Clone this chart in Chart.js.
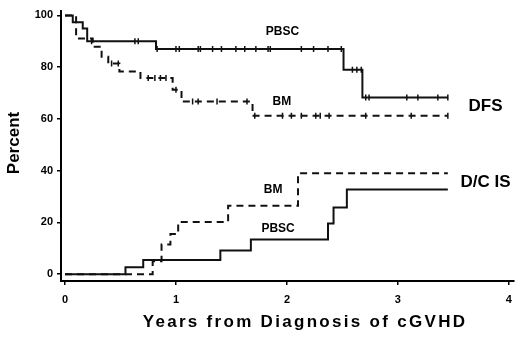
<!DOCTYPE html>
<html><head><meta charset="utf-8">
<script src="https://cdn.jsdelivr.net/npm/chart.js@4/dist/chart.umd.min.js"></script>
<style>html,body{margin:0;padding:0;background:#fff}#wrap{width:520px;height:344px}</style>
</head><body><div id="wrap"><canvas id="c" width="520" height="344"></canvas></div>
<script>
// ---- data ----
const xTicks = [0, 1, 2, 3, 4];
const yTicks = [0, 20, 40, 60, 80, 100];

// DFS, PBSC (solid): time (years) at which value becomes pct
const dfsPbscTimes = [0, 0.07, 0.16, 0.2, 0.82, 2.51, 2.68, 3.45];
const dfsPbscPct   = [100, 97.4, 95, 90, 87, 79, 68.3, 68.3];
const dfsPbscCensor = [0.24, 0.63, 0.66, 0.83, 1.0, 1.03, 1.2, 1.22, 1.33, 1.41, 1.54, 1.62, 1.72, 1.83, 1.85,
  2.13, 2.24, 2.37, 2.49, 2.59, 2.63, 2.67, 2.71, 2.74, 3.08, 3.18, 3.36, 3.45];

// DFS, BM (dashed)
const dfsBmTimes = [0, 0.1, 0.25, 0.33, 0.39, 0.49, 0.68, 0.97, 1.05, 1.69, 3.45];
const dfsBmPct   = [100, 91.1, 87.9, 84, 81.4, 78.3, 75.8, 71.3, 66.7, 61.2, 61.2];
const dfsBmCensor = [0.42, 0.48, 0.75, 0.81, 0.86, 0.91, 1.0, 1.15, 1.2, 1.37, 1.64, 1.71, 1.96, 2.04, 2.13,
  2.26, 2.3, 2.38, 2.71, 3.12, 3.45];

// D/C IS, PBSC (solid)
const dcPbscTimes = [0, 0.545, 0.705, 1.4, 1.675, 2.37, 2.42, 2.54, 3.45];
const dcPbscPct   = [0, 2.7, 5.5, 9.2, 13.4, 19.6, 25.8, 32.7, 32.7];

// D/C IS, BM (dashed)
const dcBmTimes = [0, 0.79, 0.87, 0.95, 1.02, 1.47, 2.1, 3.45];
const dcBmPct   = [0, 5, 11.5, 15.5, 20.2, 26.5, 39, 39];

// text labels
const labelTexts = ['PBSC', 'BM', 'DFS', 'D/C IS', 'BM', 'PBSC'];
const labelX     = [1.96, 1.955, 3.79, 3.79, 1.875, 1.92];
const labelY     = [93.6, 66.7, 64.8, 35.6, 32.6, 17.6];
const labelSizes = [12, 12, 17, 17, 12, 12];

const xTitle = 'Years from Diagnosis of cGVHD';
const yTitle = 'Percent';

// ---- helpers ----
const pts = (ts, ps) => ts.map((t, i) => ({x: t, y: ps[i]}));
const levelAt = (ts, ps, t) => { let v = ps[0]; for (let i = 0; i < ts.length; i++) if (ts[i] <= t) v = ps[i]; return v; };
const censorPts = (cs, ts, ps) => cs.map(t => ({x: t, y: levelAt(ts, ps, t)}));

const INK = '#111';
const stepLine = (data, dash) => ({
  type: 'line', data, stepped: 'before', borderColor: INK, borderWidth: 2,
  borderDash: dash, pointRadius: 0, fill: false, tension: 0
});
const censorSet = (data) => ({
  type: 'scatter', data, pointStyle: 'line', rotation: 90, pointRadius: 3,
  borderColor: INK, borderWidth: 1.5, backgroundColor: INK, showLine: false
});

const textPlugin = {
  id: 'texts',
  afterDraw(chart) {
    const {ctx, scales: {x, y}} = chart;
    ctx.save();
    ctx.fillStyle = '#000';
    ctx.textAlign = 'center';
    ctx.textBaseline = 'middle';
    labelTexts.forEach((t, i) => {
      ctx.font = 'bold ' + labelSizes[i] + 'px "Liberation Sans", Arial, sans-serif';
      ctx.fillText(t, x.getPixelForValue(labelX[i]), y.getPixelForValue(labelY[i]));
    });
    // axis titles
    ctx.font = 'bold 17px "Liberation Sans", Arial, sans-serif';
    ctx.save();
    ctx.translate(14, 143);
    ctx.rotate(-Math.PI / 2);
    ctx.fillText(yTitle, 0, 0);
    ctx.restore();
    ctx.save();
    try { ctx.letterSpacing = '2.3px'; } catch (e) {}
    ctx.fillText(xTitle, 305, 322);
    ctx.restore();
    ctx.restore();
  }
};

const tickFont = {family: '"Liberation Sans", Arial, sans-serif', size: 11, weight: 'bold'};

new Chart(document.getElementById('c'), {
  data: {
    datasets: [
      stepLine(pts(dfsPbscTimes, dfsPbscPct), []),
      censorSet(censorPts(dfsPbscCensor, dfsPbscTimes, dfsPbscPct)),
      stepLine(pts(dfsBmTimes, dfsBmPct), [7, 5]),
      censorSet(censorPts(dfsBmCensor, dfsBmTimes, dfsBmPct)),
      stepLine(pts(dcPbscTimes, dcPbscPct), []),
      stepLine(pts(dcBmTimes, dcBmPct), [7, 5])
    ]
  },
  options: {
    responsive: false,
    animation: false,
    layout: {padding: {top: 2, right: 2, left: 0, bottom: 0}},
    plugins: {legend: {display: false}, tooltip: {enabled: false}},
    scales: {
      x: {
        type: 'linear', min: -0.036, max: 4.045,
        afterBuildTicks: s => { s.ticks = xTicks.map(v => ({value: v})); },
        afterFit: s => { s.height = 63; },
        ticks: {font: tickFont, color: '#000', padding: 8, maxRotation: 0},
        grid: {drawOnChartArea: false, drawTicks: true, tickLength: 4, color: '#000', lineWidth: 1.5},
        border: {display: true, color: '#000', width: 2}
      },
      y: {
        type: 'linear', min: -2.62, max: 101.87,
        afterBuildTicks: s => { s.ticks = yTicks.map(v => ({value: v})); },
        afterFit: s => { s.width = 61; },
        ticks: {font: tickFont, color: '#000', padding: 4},
        grid: {drawOnChartArea: false, drawTicks: true, tickLength: 4, color: '#000', lineWidth: 1.5},
        border: {display: true, color: '#000', width: 2}
      }
    }
  },
  plugins: [textPlugin]
});
</script></body></html>
